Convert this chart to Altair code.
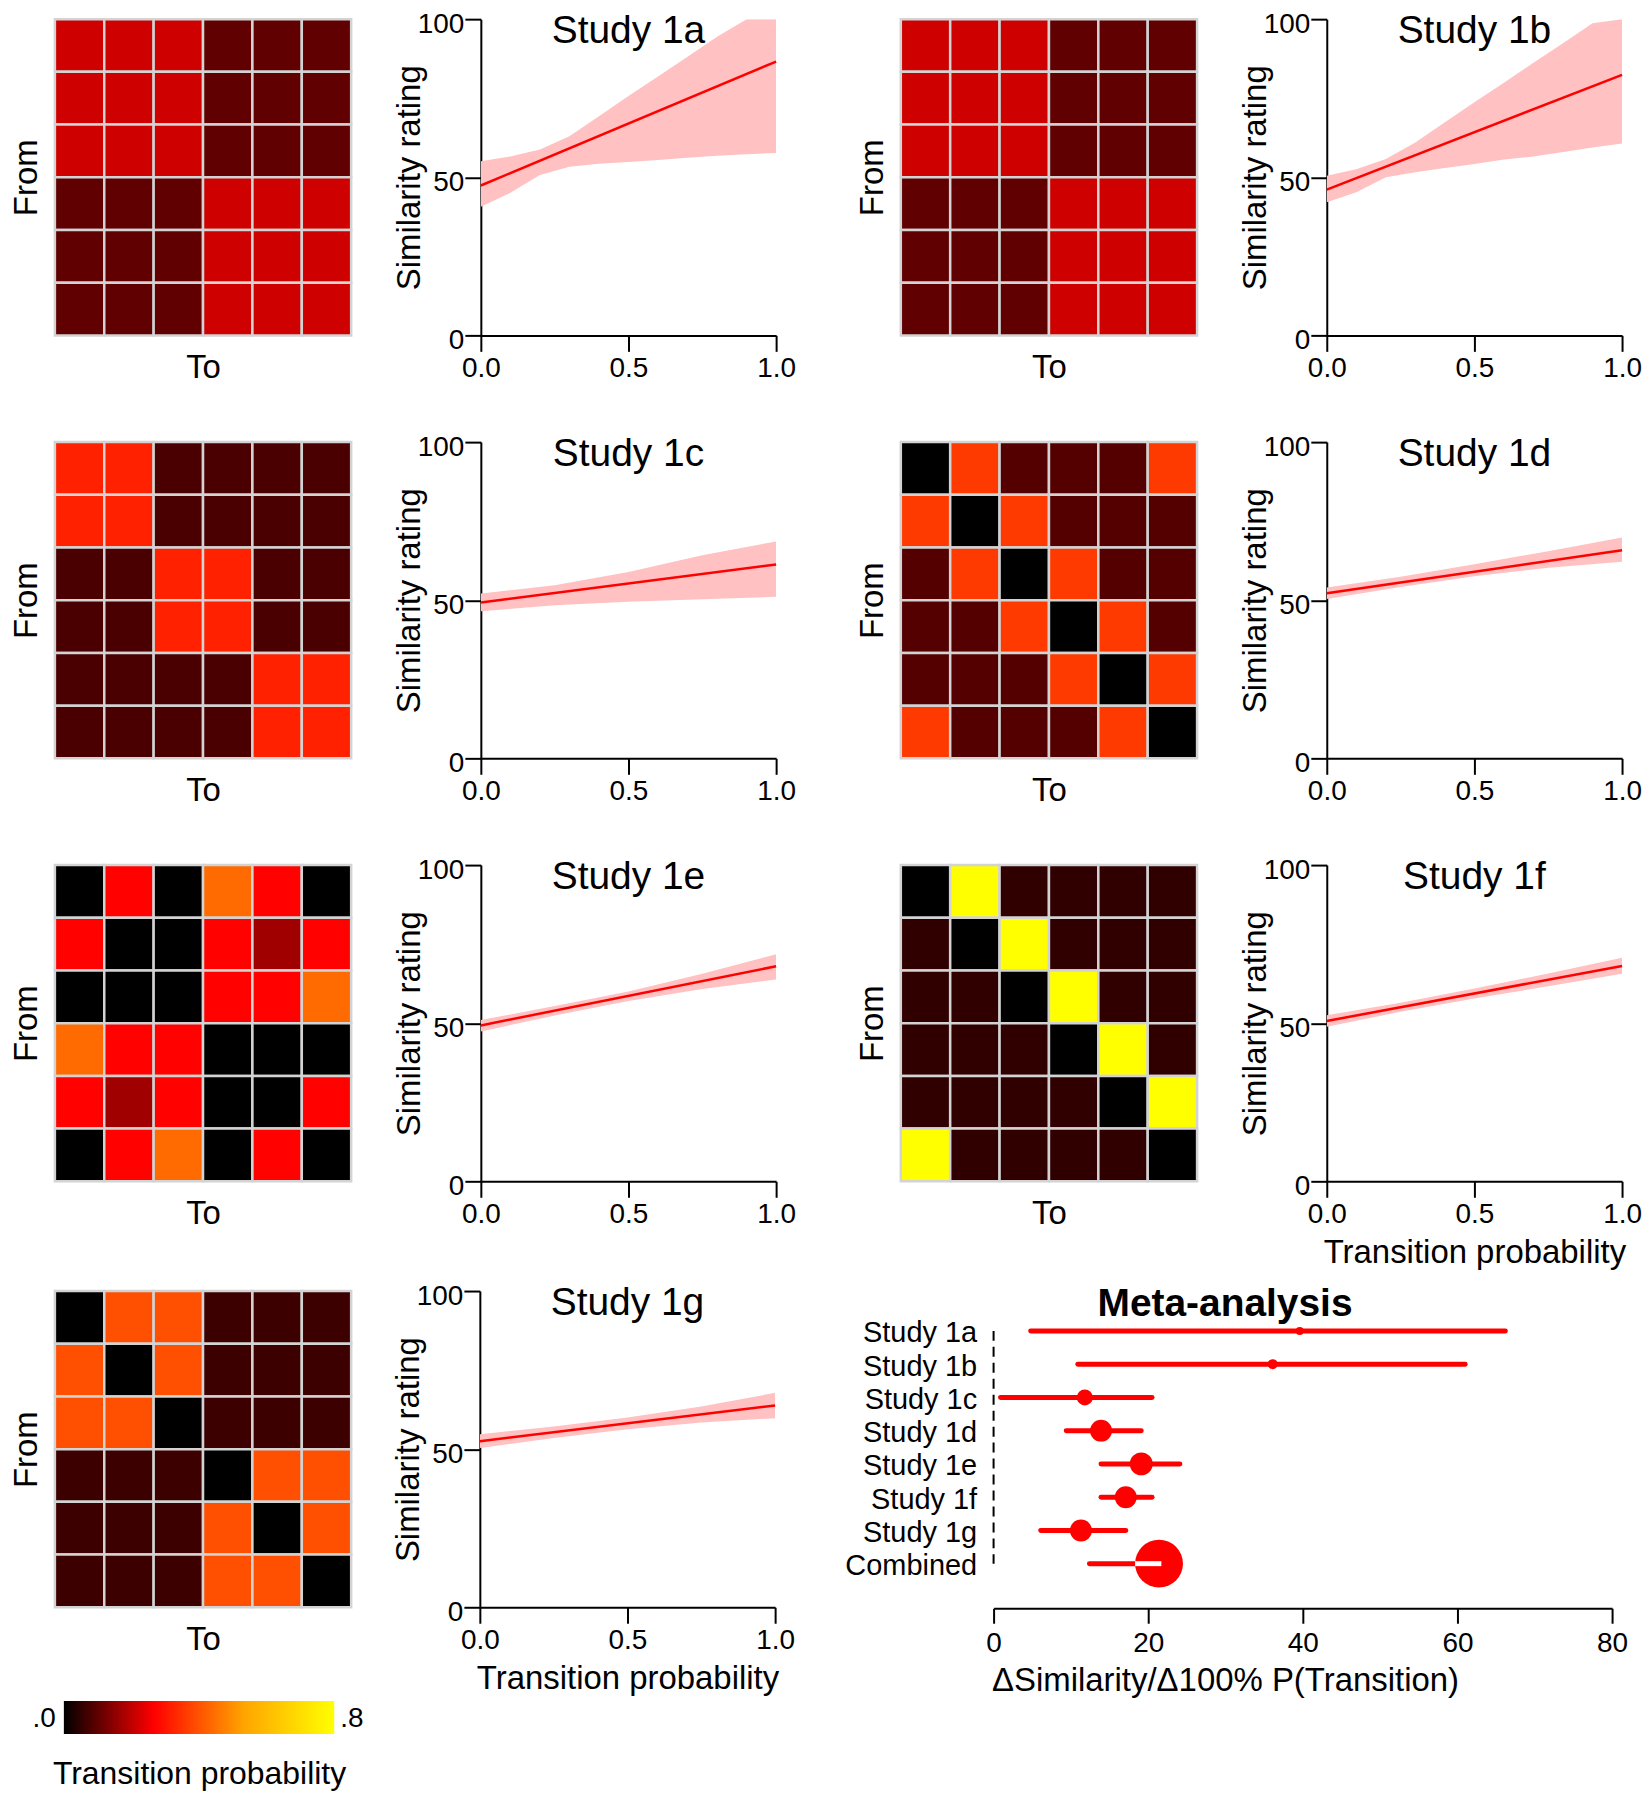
import altair as alt
import pandas as pd

FONT = "Liberation Sans"

# ---------------- heat maps: transition probabilities (row = From, column = To) ----------------
heat_1a = [
    [0.215, 0.215, 0.215, 0.10, 0.10, 0.10],
    [0.215, 0.215, 0.215, 0.10, 0.10, 0.10],
    [0.215, 0.215, 0.215, 0.10, 0.10, 0.10],
    [0.10, 0.10, 0.10, 0.215, 0.215, 0.215],
    [0.10, 0.10, 0.10, 0.215, 0.215, 0.215],
    [0.10, 0.10, 0.10, 0.215, 0.215, 0.215],
]
heat_1b = [
    [0.215, 0.215, 0.215, 0.10, 0.10, 0.10],
    [0.215, 0.215, 0.215, 0.10, 0.10, 0.10],
    [0.215, 0.215, 0.215, 0.10, 0.10, 0.10],
    [0.10, 0.10, 0.10, 0.215, 0.215, 0.215],
    [0.10, 0.10, 0.10, 0.215, 0.215, 0.215],
    [0.10, 0.10, 0.10, 0.215, 0.215, 0.215],
]
heat_1c = [
    [0.32, 0.32, 0.077, 0.077, 0.077, 0.077],
    [0.32, 0.32, 0.077, 0.077, 0.077, 0.077],
    [0.077, 0.077, 0.32, 0.32, 0.077, 0.077],
    [0.077, 0.077, 0.32, 0.32, 0.077, 0.077],
    [0.077, 0.077, 0.077, 0.077, 0.32, 0.32],
    [0.077, 0.077, 0.077, 0.077, 0.32, 0.32],
]
heat_1d = [
    [0.0, 0.36, 0.089, 0.089, 0.089, 0.36],
    [0.36, 0.0, 0.36, 0.089, 0.089, 0.089],
    [0.089, 0.36, 0.0, 0.36, 0.089, 0.089],
    [0.089, 0.089, 0.36, 0.0, 0.36, 0.089],
    [0.089, 0.089, 0.089, 0.36, 0.0, 0.36],
    [0.36, 0.089, 0.089, 0.089, 0.36, 0.0],
]
heat_1e = [
    [0.0, 0.27, 0.0, 0.44, 0.27, 0.0],
    [0.27, 0.0, 0.0, 0.27, 0.167, 0.27],
    [0.0, 0.0, 0.0, 0.27, 0.27, 0.44],
    [0.44, 0.27, 0.27, 0.0, 0.0, 0.0],
    [0.27, 0.167, 0.27, 0.0, 0.0, 0.27],
    [0.0, 0.27, 0.44, 0.0, 0.27, 0.0],
]
heat_1f = [
    [0.0, 0.8, 0.05, 0.05, 0.05, 0.05],
    [0.05, 0.0, 0.8, 0.05, 0.05, 0.05],
    [0.05, 0.05, 0.0, 0.8, 0.05, 0.05],
    [0.05, 0.05, 0.05, 0.0, 0.8, 0.05],
    [0.05, 0.05, 0.05, 0.05, 0.0, 0.8],
    [0.8, 0.05, 0.05, 0.05, 0.05, 0.0],
]
heat_1g = [
    [0.0, 0.395, 0.395, 0.064, 0.064, 0.064],
    [0.395, 0.0, 0.395, 0.064, 0.064, 0.064],
    [0.395, 0.395, 0.0, 0.064, 0.064, 0.064],
    [0.064, 0.064, 0.064, 0.0, 0.395, 0.395],
    [0.064, 0.064, 0.064, 0.395, 0.0, 0.395],
    [0.064, 0.064, 0.064, 0.395, 0.395, 0.0],
]

heat_domain = [0.0, 0.8]
heat_colors = ["#000000", "#ff0000", "#ffa500", "#ffff00"]
colorbar_ticks = [0.0, 0.8]
colorbar_labels = [".0", ".8"]

# ---------------- regression lines (predicted similarity at P = 0 and P = 1) ----------------
line_x = [0.0, 1.0]
line_1a = [47.4, 86.6]
line_1b = [46.1, 82.4]
line_1c = [49.3, 61.3]
line_1d = [52.2, 65.8]
line_1e = [49.3, 68.0]
line_1f = [50.7, 68.1]
line_1g = [52.5, 63.8]

# ---------------- confidence bands ----------------
band_x_fine = [0.0, 0.1, 0.2, 0.3, 0.4, 0.5, 0.6, 0.7, 0.8, 0.9, 1.0]
band_x_coarse = [0.0, 0.25, 0.5, 0.75, 1.0]
upper_1a = [55.1, 56.6, 58.8, 63.0, 69.3, 75.7, 81.9, 88.1, 94.4, 100.0, 100.0]
lower_1a = [40.7, 45.1, 50.7, 53.3, 54.3, 54.8, 55.5, 56.2, 56.8, 57.3, 57.7]
upper_1b = [50.5, 52.5, 55.8, 61.0, 67.4, 73.7, 79.9, 86.2, 92.4, 98.7, 100.0]
lower_1b = [42.1, 45.3, 50.0, 51.6, 52.9, 54.2, 55.6, 56.6, 58.0, 59.4, 60.7]
upper_1c = [52.1, 54.7, 58.9, 64.2, 68.6]
lower_1c = [46.5, 48.4, 49.5, 50.3, 51.1]
upper_1d = [54.0, 57.4, 61.4, 65.5, 69.8]
lower_1d = [50.4, 54.2, 57.6, 60.3, 62.2]
upper_1e = [51.0, 55.4, 60.0, 65.6, 71.8]
lower_1e = [47.4, 52.4, 57.0, 60.8, 63.8]
upper_1f = [52.5, 56.5, 61.0, 65.7, 70.7]
lower_1f = [48.9, 53.6, 57.8, 61.7, 65.6]
upper_1g = [54.7, 57.2, 60.0, 63.5, 67.8]
lower_1g = [50.4, 53.5, 56.3, 58.4, 59.8]

# ---------------- meta-analysis ----------------
meta_labels = ["Study 1a", "Study 1b", "Study 1c", "Study 1d", "Study 1e", "Study 1f", "Study 1g", "Combined"]
meta_est = [39.6, 36.1, 11.8, 13.9, 19.1, 17.1, 11.3, 21.4]
meta_lo = [4.8, 10.9, 0.9, 9.4, 13.9, 13.9, 6.1, 12.4]
meta_hi = [66.2, 61.0, 20.5, 19.1, 24.1, 20.5, 17.1, 21.7]
meta_marker_px = [8, 10, 16, 22, 23, 22, 22, 48]

# ---------------- layout constants ----------------
HEAT_W, HEAT_H = 297, 317
LINE_W, LINE_H = 296, 317
META_W, META_H = 620, 290
S_IN = 40
S_MID = 61
S_ROW = 49
S_ROW4 = 13
S_CB = 45
S_META = 49

COLOR_SCALE = alt.Scale(domain=heat_domain, range=heat_colors, interpolate="rgb")


def heat_chart(matrix):
    recs = [{"From": i + 1, "To": j + 1, "p": v}
            for i, row in enumerate(matrix) for j, v in enumerate(row)]
    return alt.Chart(pd.DataFrame(recs)).mark_rect(stroke="#d3d3d3", strokeWidth=2.5).encode(
        x=alt.X("To:O", scale=alt.Scale(paddingInner=0, paddingOuter=0),
                axis=alt.Axis(title="To", labels=False, ticks=False, domain=False,
                              titleFontSize=33, titlePadding=16)),
        y=alt.Y("From:O", scale=alt.Scale(paddingInner=0, paddingOuter=0),
                axis=alt.Axis(title="From", labels=False, ticks=False, domain=False,
                              titleFontSize=33, titlePadding=11)),
        color=alt.Color("p:Q", scale=COLOR_SCALE, legend=None),
    ).properties(width=HEAT_W, height=HEAT_H)


def line_chart(name, bx, up, lo, ends, xtitle=False):
    band_df = pd.DataFrame({"P": bx, "upper": up, "lower": lo})
    line_df = pd.DataFrame({"P": line_x, "S": ends})
    xs = alt.Scale(domain=[0, 1], nice=False, zero=False)
    ys = alt.Scale(domain=[0, 100], nice=False)
    xkw = dict(values=[0, 0.5, 1], format=".1f", tickSize=16, tickWidth=2, domainWidth=2,
               labelFontSize=28, labelPadding=3, labelFlush=False, labelOverlap=False)
    if xtitle:
        xaxis = alt.Axis(title="Transition probability", titleFontSize=33, titlePadding=8, **xkw)
    else:
        xaxis = alt.Axis(title=None, **xkw)
    yaxis = alt.Axis(values=[0, 50, 100], tickSize=16, tickWidth=2, domainWidth=2,
                     labelFontSize=28, labelPadding=1, labelOffset=5, labelOverlap=False,
                     title="Similarity rating", titleFontSize=33,
                     titleX=-54, titleY=LINE_H / 2)
    band = alt.Chart(band_df).mark_area(color="#ffc1c1", opacity=1, clip=True).encode(
        x=alt.X("P:Q", scale=xs, axis=xaxis),
        y=alt.Y("upper:Q", scale=ys, axis=yaxis),
        y2="lower:Q",
    )
    line = alt.Chart(line_df).mark_line(color="#ff0000", strokeWidth=2.5).encode(
        x="P:Q", y="S:Q")
    title = alt.Chart(pd.DataFrame({"t": [name]})).mark_text(
        fontSize=39, baseline="middle", align="center", color="black").encode(
        text="t:N", x=alt.value(LINE_W / 2), y=alt.value(12))
    return alt.layer(band, line, title).properties(width=LINE_W, height=LINE_H)


def meta_chart():
    df = pd.DataFrame({"study": meta_labels, "est": meta_est, "lo": meta_lo, "hi": meta_hi,
                       "area": [d * d for d in meta_marker_px]})
    px_per_unit = META_W / 80.0
    c = len(meta_labels) - 1
    white_df = pd.DataFrame({"study": [meta_labels[c]],
                             "lo": [meta_est[c] - meta_marker_px[c] / 2.0 / px_per_unit],
                             "hi": [meta_hi[c]]})
    dash_df = pd.DataFrame({"zero": [0.0], "top": [meta_labels[0]], "bottom": [meta_labels[-1]]})
    xs = alt.Scale(domain=[0, 80], nice=False, zero=False)
    ys = alt.Scale(type="point", domain=meta_labels, padding=0.85, align=0.705)
    xaxis = alt.Axis(values=[0, 20, 40, 60, 80], offset=28, tickSize=15, tickWidth=2, domainWidth=2,
                     labelFontSize=28, labelPadding=6, labelFlush=False, labelOverlap=False,
                     title="ΔSimilarity/Δ100% P(Transition)", titleFontSize=33, titlePadding=7,
                     titleX=232)
    yaxis = alt.Axis(title=None, ticks=False, domain=False, labelFontSize=29,
                     labelPadding=17, labelOffset=2)
    ci = alt.Chart(df).mark_rule(color="#ff0000", strokeWidth=5, strokeCap="round").encode(
        x=alt.X("lo:Q", scale=xs, axis=xaxis),
        x2="hi:Q",
        y=alt.Y("study:N", scale=ys, axis=yaxis),
    )
    dash = alt.Chart(dash_df).mark_rule(color="black", strokeWidth=2, strokeDash=[10, 6]).encode(
        x="zero:Q", y="top:N", y2="bottom:N")
    dots = alt.Chart(df).mark_circle(color="#ff0000", opacity=1).encode(
        x="est:Q", y="study:N", size=alt.Size("area:Q", scale=None, legend=None))
    white = alt.Chart(white_df).mark_rule(color="white", strokeWidth=5).encode(
        x="lo:Q", x2="hi:Q", y="study:N")
    title = alt.Chart(pd.DataFrame({"t": ["Meta-analysis"]})).mark_text(
        fontSize=39, fontWeight="bold", baseline="middle", align="center", color="black").encode(
        text="t:N", x=alt.value(232), y=alt.value(13))
    return alt.layer(ci, dash, dots, white, title).properties(width=META_W, height=META_H)


def colorbar_chart():
    bar_df = pd.DataFrame({"start": [heat_domain[0]], "end": [heat_domain[1]]})
    xs = alt.Scale(domain=heat_domain, range=[9, 280], nice=False, zero=False)
    n = len(heat_colors) - 1
    grad = alt.LinearGradient(
        gradient="linear",
        stops=[alt.GradientStop(color=col, offset=i / n) for i, col in enumerate(heat_colors)],
        x1=0, x2=1, y1=0, y2=0)
    bar = alt.Chart(bar_df).mark_rect(color=grad).encode(
        x=alt.X("start:Q", scale=xs,
                axis=alt.Axis(title="Transition probability", labels=False, ticks=False,
                              domain=False, titleFontSize=32, titlePadding=25)),
        x2="end:Q",
    )
    lab_df = pd.DataFrame({"v": colorbar_ticks, "t": colorbar_labels})
    left = alt.Chart(lab_df.iloc[[0]]).mark_text(
        align="right", dx=-8, fontSize=28, baseline="middle", color="black").encode(
        x="v:Q", text="t:N", y=alt.value(18))
    right = alt.Chart(lab_df.iloc[[1]]).mark_text(
        align="left", dx=6, fontSize=28, baseline="middle", color="black").encode(
        x="v:Q", text="t:N", y=alt.value(18))
    return alt.layer(bar, left, right).properties(width=280, height=33)


def row(h1, l1, h2, l2):
    return alt.hconcat(alt.hconcat(h1, l1, spacing=S_IN),
                       alt.hconcat(h2, l2, spacing=S_IN), spacing=S_MID)


row1 = row(heat_chart(heat_1a), line_chart("Study 1a", band_x_fine, upper_1a, lower_1a, line_1a),
           heat_chart(heat_1b), line_chart("Study 1b", band_x_fine, upper_1b, lower_1b, line_1b))
row2 = row(heat_chart(heat_1c), line_chart("Study 1c", band_x_coarse, upper_1c, lower_1c, line_1c),
           heat_chart(heat_1d), line_chart("Study 1d", band_x_coarse, upper_1d, lower_1d, line_1d))
row3 = row(heat_chart(heat_1e), line_chart("Study 1e", band_x_coarse, upper_1e, lower_1e, line_1e),
           heat_chart(heat_1f), line_chart("Study 1f", band_x_coarse, upper_1f, lower_1f, line_1f,
                                            xtitle=True))
left4 = alt.vconcat(heat_chart(heat_1g), colorbar_chart(), spacing=S_CB)
row4 = alt.hconcat(
    alt.hconcat(left4, line_chart("Study 1g", band_x_coarse, upper_1g, lower_1g, line_1g, xtitle=True),
                spacing=S_IN - 12),
    meta_chart(), spacing=S_META)

top = alt.vconcat(row1, row2, row3, spacing=S_ROW)
chart = alt.vconcat(top, row4, spacing=S_ROW4).properties(
    padding={"left": 3, "top": 0, "right": 0, "bottom": 0}, background="white"
).configure(font=FONT).configure_axis(
    labelFont=FONT, titleFont=FONT, labelColor="black", titleColor="black",
    domainColor="black", tickColor="black", grid=False, titleFontWeight="normal",
).configure_view(stroke=None)

chart.save("out.html", embed_options={"renderer": "svg", "actions": False})
